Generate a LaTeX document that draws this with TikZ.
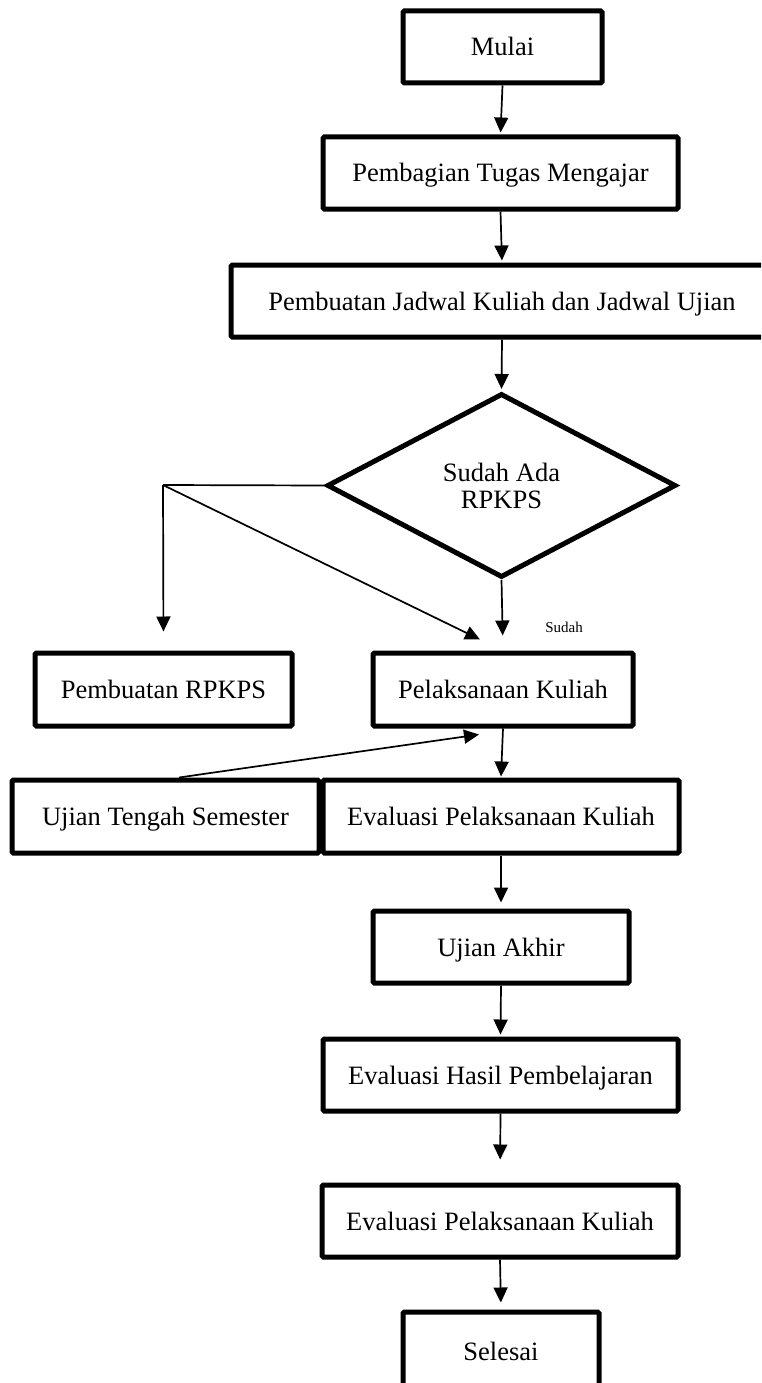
\documentclass[tikz,border=0pt]{standalone}
\usepackage{fontspec}
\setmainfont{Liberation Serif}
\usepackage{tikz}
\usetikzlibrary{arrows.meta, shapes.geometric, calc}
\newcommand{\boxfont}{\fontsize{26.5}{31}\selectfont}
\newcommand{\decfont}{\fontsize{26.5}{27}\selectfont}
\tikzset{
  box/.style = {draw, line width=5pt, rounded corners=1.5pt, align=center,
                font=\boxfont, minimum height=72pt, inner sep=0pt,
                text height=18pt, text depth=0pt},
  dec/.style = {draw, diamond, line width=5pt, align=center, inner sep=0pt,
                font=\decfont, minimum width=349pt, minimum height=184pt},
  fl/.style  = {-{Triangle[length=15pt, width=14pt]}, line width=1.7pt},
  ln/.style  = {line width=1.7pt},
  lbl/.style = {font=\fontsize{15}{18}\selectfont},
}
\begin{document}
\begin{tikzpicture}[x=1pt, y=-1pt]
  \useasboundingbox (0,0) rectangle (761,1383);
  \clip (0,0) rectangle (761,1383);
  \node[box, minimum width=199pt] (mulai)  at (502.5,47)  {Mulai};
  \node[box, minimum width=355pt] (tugas)  at (500.5,173) {Pembagian Tugas Mengajar};
  \node[box, minimum width=542pt] (jadwal) at (502,301)   {Pembuatan Jadwal Kuliah dan Jadwal Ujian};
  \node[dec] (cek) at (501.5,485.5) {Sudah Ada\\RPKPS};
  \coordinate (split) at (163,485);
  \node[box, minimum width=257pt, minimum height=73pt] (rpkps)  at (163.5,689.5) {Pembuatan RPKPS};
  \node[box, minimum width=260pt, minimum height=73pt] (kuliah) at (503,689.5)   {Pelaksanaan Kuliah};
  \node[lbl] (sudah) at (564,627.5) {Sudah};
  \node[box, minimum width=307pt, minimum height=73pt] (uts)     at (165.5,816.5) {Ujian Tengah Semester};
  \node[box, minimum width=356pt, minimum height=73pt] (evalkul) at (501,816.5)   {Evaluasi Pelaksanaan Kuliah};
  \node[box, minimum width=256pt] (uas)       at (501,947)    {Ujian Akhir};
  \node[box, minimum width=355pt] (hasil)     at (500.5,1075) {Evaluasi Hasil Pembelajaran};
  \node[box, minimum width=356pt] (evalakhir) at (500,1221)   {Evaluasi Pelaksanaan Kuliah};
  \node[box, minimum width=196pt, minimum height=78pt] (selesai) at (501,1351) {Selesai};
  \draw[fl, shorten >=2pt] (mulai.south) -- (tugas.north);
  \draw[fl, shorten >=2pt] (tugas.south) -- (jadwal.north);
  \draw[fl, shorten >=2pt] (jadwal.south) -- (cek.north);
  \draw[ln] (cek.west) -- (split);
  \draw[fl, shorten >=19pt] (split) -- (rpkps.north);
  \draw[fl] (split) -- ($(kuliah.north)+(-23,-11)$);
  \draw[fl, shorten >=15pt] (cek.south) -- (kuliah.north);
  \draw[fl, shorten >=1pt] (kuliah.south) -- (evalkul.north);
  \draw[fl] ($(uts.north)+(13.5,0)$) -- ($(kuliah.south)+(-24,6)$);
  \draw[fl, shorten >=6pt] (evalkul.south) -- (uas.north);
  \draw[fl, shorten >=2pt] (uas.south) -- (hasil.north);
  \draw[fl, shorten >=23pt] (hasil.south) -- (evalakhir.north);
  \draw[fl, shorten >=7pt] (evalakhir.south) -- (selesai.north);
\end{tikzpicture}
\end{document}
